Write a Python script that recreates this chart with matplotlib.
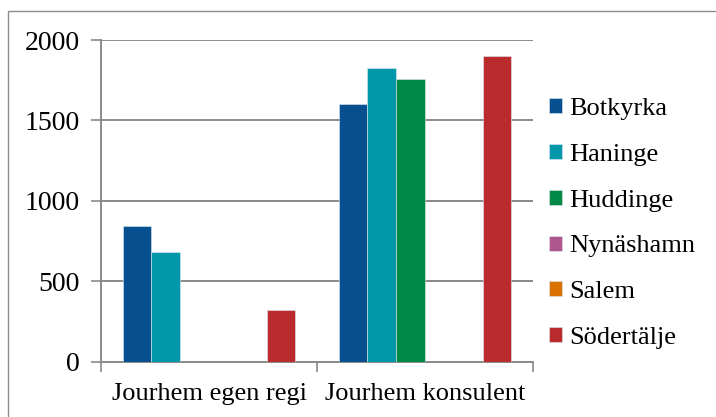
import numpy as np
import matplotlib.pyplot as plt
from matplotlib.patches import Rectangle

plt.rcParams['font.family'] = ['Liberation Serif', 'DejaVu Serif']

categories = ['Jourhem egen regi', 'Jourhem konsulent']
series = ['Botkyrka', 'Haninge', 'Huddinge', 'Nynäshamn', 'Salem', 'Södertälje']
values = {
    'Botkyrka':   [845, 1600],
    'Haninge':    [685, 1825],
    'Huddinge':   [np.nan, 1760],
    'Nynäshamn':  [np.nan, np.nan],
    'Salem':      [np.nan, np.nan],
    'Södertälje': [320, 1900],
}
colors = ['#06508F', '#0098A9', '#008946', '#B0568E', '#D97200', '#BA2B2E']
yticks = [0, 500, 1000, 1500, 2000]

fig = plt.figure(figsize=(7.16, 4.17), dpi=100)
ax = fig.add_axes([101/716, 1 - 361.7/417, (533 - 101)/716, (361.7 - 40)/417])

n = len(series)
gap = 0.1
w = (1 - 2*gap) / n
x = np.arange(len(categories))
for i, s in enumerate(series):
    ax.bar(x - 0.5 + gap + w*i, values[s], width=w, align='edge',
           color=colors[i], edgecolor='#dfe8f0', linewidth=0.4, label=s, zorder=3)

ax.set_xlim(-0.5, len(categories) - 0.5)
ax.set_ylim(0, 2000)
ax.set_yticks(yticks)
ax.yaxis.grid(True, color='#8a8a8a', linewidth=1.4, zorder=0)
ax.set_xticks(x)
ax.set_xticklabels(categories)
ax.set_xticks([-0.5, 0.5, 1.5], minor=True)
ax.tick_params(axis='x', which='major', length=0, pad=15, labelsize=19)
ax.tick_params(axis='x', which='minor', length=7, color='#8a8a8a', width=1.2, direction='out')
ax.tick_params(axis='y', length=7, color='#8a8a8a', width=1.2, pad=8, labelsize=20)
for side in ['top', 'right']:
    ax.spines[side].set_visible(False)
for side in ['left', 'bottom']:
    ax.spines[side].set_color('#8a8a8a')
    ax.spines[side].set_linewidth(1.4)

leg = fig.legend(loc='upper left', bbox_to_anchor=(536/716, 1 - 85/417),
                 frameon=False, fontsize=19, handlelength=0.5, handleheight=0.5,
                 handletextpad=0.27, labelspacing=0.9, borderpad=0)

fig.patches.append(Rectangle((8/716, -0.2), 1.2, 0.2 + 1 - 11/417, transform=fig.transFigure,
                             fill=False, edgecolor='#8c8c8c', linewidth=1.0))

fig.savefig('out.png', dpi=100)
